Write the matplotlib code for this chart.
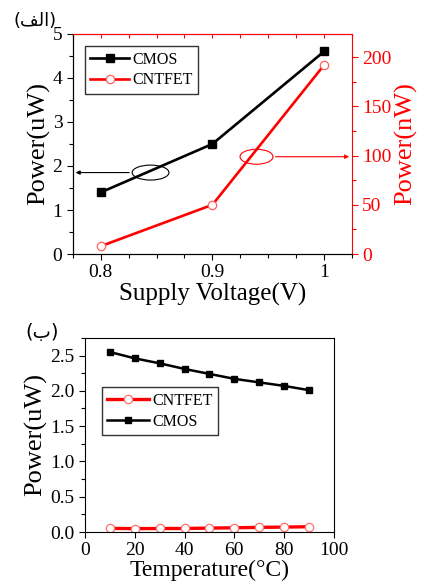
import matplotlib
matplotlib.use("Agg")
import matplotlib.pyplot as plt
from matplotlib.patches import Ellipse
from matplotlib.ticker import MultipleLocator, FormatStrFormatter

# ─── Data ──────────────────────────────────────────────────────────────────────

vdd = [0.8, 0.9, 1.0]
cmos_vdd_uw = [1.4, 2.5, 4.6]
cntfet_vdd_nw = [8, 50, 192]

temp = [10, 20, 30, 40, 50, 60, 70, 80, 90]
cmos_temp_uw = [2.55, 2.46, 2.39, 2.31, 2.24, 2.17, 2.12, 2.07, 2.01]
cntfet_temp_uw = [0.052, 0.048, 0.050, 0.050, 0.056, 0.060, 0.066, 0.070, 0.075]

RED = "#ff0000"
plt.rcParams["font.family"] = ["Liberation Serif", "DejaVu Sans"]

fig = plt.figure(figsize=(4.21, 5.84), dpi=100)

# ─── (a) Power vs supply voltage ───────────────────────────────────────────────

ax1 = fig.add_axes([0.173, 0.565, 0.663, 0.377])
ax2 = ax1.twinx()

l1, = ax1.plot(vdd, cmos_vdd_uw, color="k", lw=1.9, marker="s", ms=5.5,
               mfc="k", mec="k", label="CMOS")
l2, = ax2.plot(vdd, cntfet_vdd_nw, color=RED, lw=1.9, marker="o", ms=6,
               mfc="white", mec="#ff6060", mew=0.9, label="CNTFET")

ax1.set_xlim(0.775, 1.025)
ax1.set_ylim(0, 5)
ax2.set_ylim(0, 223.7)

ax1.set_xticks([0.8, 0.9, 1.0])
ax1.set_xticklabels(["0.8", "0.9", "1"])
ax1.xaxis.set_minor_locator(MultipleLocator(0.025))
ax1.yaxis.set_major_locator(MultipleLocator(1))
ax1.yaxis.set_minor_locator(MultipleLocator(0.5))
ax2.yaxis.set_major_locator(MultipleLocator(50))
ax2.yaxis.set_minor_locator(MultipleLocator(25))

ax1.tick_params(which="both", direction="out", labelsize=14, width=0.8)
ax1.tick_params(which="major", length=4)
ax1.tick_params(which="minor", length=3)
ax2.tick_params(which="both", direction="out", colors=RED, labelsize=14, width=0.8)
ax2.tick_params(which="major", length=4)
ax2.tick_params(which="minor", length=3)

top = ax1.secondary_xaxis("top")
top.set_xticks([0.8, 0.9, 1.0])
top.xaxis.set_minor_locator(MultipleLocator(0.025))
top.tick_params(which="both", direction="in", colors=RED, labeltop=False,
                length=3, width=0.8)
top.spines["top"].set_color(RED)

for s in ("right", "top"):
    ax2.spines[s].set_color(RED)
ax1.spines["top"].set_visible(False)
ax1.spines["right"].set_visible(False)

ax1.set_xlabel("Supply Voltage(V)", fontsize=18, labelpad=1)
ax1.set_ylabel("Power(uW)", fontsize=19, labelpad=2)
ax2.set_ylabel("Power(nW)", fontsize=19, color=RED, labelpad=2)

ax2.legend([l1, l2], ["CMOS", "CNTFET"], loc="upper left",
           bbox_to_anchor=(0.043, 0.945), borderaxespad=0, fontsize=11.5,
           frameon=True, fancybox=False, edgecolor="#333333", framealpha=1,
           handlelength=2.4, handletextpad=0.2, borderpad=0.35, labelspacing=0.3)

# ellipses + arrows pointing to the matching axis
ax1.add_patch(Ellipse((0.8446, 1.85), 0.033, 0.34, fill=False, ec="k", lw=0.8))
ax1.annotate("", xy=(0.775, 1.85), xytext=(0.828, 1.85),
             arrowprops=dict(arrowstyle="-|>", color="k", lw=0.8, mutation_scale=6))
ax1.add_patch(Ellipse((0.9395, 2.21), 0.0295, 0.34, fill=False, ec=RED, lw=0.8))
ax1.annotate("", xy=(1.025, 2.21), xytext=(0.954, 2.21),
             arrowprops=dict(arrowstyle="-|>", color=RED, lw=0.8, mutation_scale=6))

fig.text(0.033, 0.979, "(\ufed2\ufedf\ufe8d)", fontsize=13, va="top", ha="left",
         family=["DejaVu Sans"])

# ─── (b) Power vs temperature ──────────────────────────────────────────────────

ax3 = fig.add_axes([0.202, 0.089, 0.591, 0.333])
l3, = ax3.plot(temp, cntfet_temp_uw, color=RED, lw=2.4, marker="o", ms=6,
               mfc="white", mec="#ff7070", mew=0.9, label="CNTFET")
l4, = ax3.plot(temp, cmos_temp_uw, color="k", lw=1.8, marker="s", ms=5,
               mfc="k", mec="k", label="CMOS")

ax3.set_xlim(0, 100)
ax3.set_ylim(0, 2.755)
ax3.xaxis.set_major_locator(MultipleLocator(20))
ax3.yaxis.set_major_locator(MultipleLocator(0.5))
ax3.yaxis.set_minor_locator(MultipleLocator(0.25))
ax3.yaxis.set_major_formatter(FormatStrFormatter("%.1f"))
ax3.tick_params(which="both", direction="out", labelsize=14, width=0.8)
ax3.tick_params(which="major", length=4)
ax3.tick_params(which="minor", length=3)
for s in ax3.spines.values():
    s.set_linewidth(0.8)

ax3.set_xlabel("Temperature(\u00b0C)", fontsize=17, labelpad=0)
ax3.set_ylabel("Power(uW)", fontsize=19, labelpad=2)

ax3.legend([l3, l4], ["CNTFET", "CMOS"], loc="upper left",
           bbox_to_anchor=(0.067, 0.745), borderaxespad=0, fontsize=11.5,
           frameon=True, fancybox=False, edgecolor="#333333", framealpha=1,
           handlelength=2.6, handletextpad=0.2, borderpad=0.35, labelspacing=0.3)

fig.text(0.06, 0.447, "(\ufe8f)", fontsize=14, va="top", ha="left",
         family=["DejaVu Sans"])

fig.savefig("out.png", dpi=100)
